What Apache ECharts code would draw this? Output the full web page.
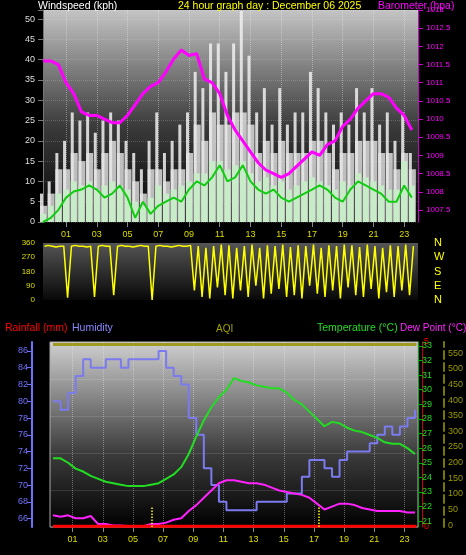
<!DOCTYPE html>
<html><head><meta charset="utf-8">
<script src="https://cdn.jsdelivr.net/npm/echarts@6/dist/echarts.min.js"></script>
<style>html,body{margin:0;background:#000}#c{width:466px;height:555px}</style>
</head><body><div id="c"></div>
<script>
// half-hourly readings from -0.5h to 23.5h
var pressure = [1011.6,1011.6,1011.5,1011.0,1010.7,1010.2,1010.1,1010.1,1010.0,1009.9,1009.9,1010.1,1010.4,1010.7,1010.9,1011.0,1011.3,1011.65,1011.9,1011.75,1011.8,1011.1,1011.0,1010.7,1010.1,1009.7,1009.4,1009.1,1008.8,1008.6,1008.5,1008.4,1008.5,1008.7,1008.9,1009.1,1009.0,1009.3,1009.4,1009.8,1010.0,1010.3,1010.5,1010.7,1010.7,1010.6,1010.3,1010.1,1009.7];
var gust = [7,10,17,20,27,25,27,22,25,27,25,20,17,13,20,27,17,20,24,27,37,33,44,44,37,44,52,41,27,33,24,33,24,27,27,37,33,27,24,27,24,33,27,33,24,27,20,27,17];
var gustLow = [4,7,13,13,17,15,17,13,17,20,17,13,10,7,13,13,10,13,13,17,24,20,27,24,24,27,27,24,17,20,17,20,17,17,17,20,20,17,13,17,17,20,20,20,17,17,13,17,13];
var speed = [2,4,7,8,10,9,10,8,9,10,9,8,5,4,6,9,7,8,9,10,12,12,15,15,13,14,15,12,10,11,9,10,8,9,10,11,10,9,8,10,9,12,11,10,9,8,8,15,9];
var windAvg = [0,1,3,6,7.5,8,9,8,6,7,9,6,1,5,2,4,5,6,5,8,10,9,11,14,10,11,14,10,8,7,8,6,5,6,7,8,9,8,6,5,8,10,9,8,7,5,5,9,6];
// quarter-hourly wind direction, 0h to 24h
var windDir = [340,345,340,335, 340,340,15,340, 345,340,340,335, 340,20,340,345, 340,340,30,340, 345,340,340,335, 340,345,340,340, 0,340,345,340, 340,335,340,345, 340,340,345,60,
  340,20,330,10, 340,80,350,30, 345,10,330,60, 340,20,350,90, 330,10,345,40, 340,70,350,20, 335,30,345,10, 340,90,350,40, 330,20,345,60, 340,10,350,80,
  345,30,335,20, 350,70,340,10, 330,50,345,20, 340,60,350,30, 340];
// half-hourly, 0h to 24h
var humidity = [80,79,81,83,85,84,84,85,85,84,85,85,85,85,86,84,83,82,78,76,72,70,68,67,67,67,67,68,68,68,68,69,69,71,73,73,72,71,73,74,74,74,75,76,77,76,77,78,79];
var temperature = [25.3,25.3,25.0,24.6,24.4,24.1,23.9,23.7,23.6,23.5,23.4,23.4,23.4,23.5,23.6,23.9,24.2,24.7,25.6,26.8,27.9,28.8,29.5,30.0,30.8,30.6,30.5,30.3,30.2,30.1,30.1,29.8,29.3,29.0,28.5,28.0,27.5,27.8,27.7,27.4,27.2,27.1,26.9,26.7,26.4,26.3,26.3,26.0,25.6];
var dewPoint = [21.4,21.3,21.4,21.2,21.2,21.35,20.8,20.8,20.7,20.7,20.65,20.65,20.65,20.8,20.8,20.9,21.1,21.2,21.7,22.1,22.6,23.1,23.6,23.8,23.8,23.7,23.6,23.6,23.5,23.3,23.1,23.0,22.9,22.8,22.6,22.2,21.8,22.0,22.2,22.2,22.1,21.9,21.8,21.7,21.7,21.7,21.7,21.6,21.6];
var hourLabels = [1,3,5,7,9,11,13,15,17,19,21,23];
var dirLabels = ['N','W','S','E','N'];

function pairs(arr, start, step) { return arr.map(function (v, i) { return [start + i * step, v]; }); }

var font = 'Liberation Sans';
var bgTop = {type:'linear',x:0,y:0,x2:0,y2:1,colorStops:[{offset:0,color:'#c4c4c4'},{offset:0.55,color:'#3a3a3a'},{offset:1,color:'#050505'}]};
var bgBot = {type:'linear',x:0,y:0,x2:0,y2:1,colorStops:[{offset:0,color:'#d0d0d0'},{offset:0.6,color:'#3c3c3c'},{offset:1,color:'#000'}]};
var bgMid = {type:'linear',x:0,y:0,x2:0,y2:1,colorStops:[{offset:0,color:'#555'},{offset:1,color:'#080808'}]};

function xAxis(grid, show) {
  return {type:'value', gridIndex:grid, min:-0.5, max:23.9,
    axisLine:{show:false}, splitLine:{show:show, lineStyle:{color:'rgba(255,255,255,0.35)', type:'dotted'}},
    axisTick:{show:show, customValues:hourLabels, lineStyle:{color:'#888'}},
    axisLabel:{show:show, customValues:hourLabels, color:'#dddd00', fontSize:9, fontFamily:font,
      formatter:function (v) { return (v < 10 ? '0' : '') + v; }}};
}
function title(text, left, top, color, size) {
  return {text:text, left:left, top:top, textStyle:{color:color, fontSize:size || 10.5, fontWeight:'normal', fontFamily:font}};
}

var chart = echarts.init(document.getElementById('c'));
chart.setOption({
  backgroundColor:'#000',
  animation:false,
  title:[
    title('Windspeed (kph)', 33, -4, '#fff'),
    title('24 hour graph day : December 06 2025', 173, -4, '#ffff00'),
    title('Barometer (hpa)', 373, -4, '#ff00ff'),
    title('Rainfall (mm)', 0, 318, '#ff0000'),
    title('Humidity', 67, 318, '#8888ff'),
    title('AQI', 211, 319, '#a0a000', 10),
    title('Temperature (°C)', 312, 318, '#22dd22'),
    title('Dew Point (°C)', 395, 318, '#ff22ff', 10)
  ],
  grid:[
    {left:43, right:48, top:10, height:212, show:true, backgroundColor:bgTop, borderWidth:0},
    {left:43, right:48, top:243, height:57, show:true, backgroundColor:bgMid, borderWidth:0},
    {left:50, right:48, top:342, height:185, show:true, backgroundColor:bgBot, borderColor:'#aaa', borderWidth:1}
  ],
  xAxis:[xAxis(0, true), xAxis(1, false), xAxis(2, true)],
  yAxis:[
    {type:'value', gridIndex:0, min:0, max:52.25, interval:5,
      axisLine:{show:true, onZero:false, lineStyle:{color:'#777'}}, axisTick:{show:true, lineStyle:{color:'#777'}},
      splitLine:{show:true, lineStyle:{color:'rgba(255,255,255,0.18)', type:'dotted'}},
      axisLabel:{color:'#ddd', fontSize:9, fontFamily:font, customValues:[0,5,10,15,20,25,30,35,40,45,50]}},
    {type:'value', gridIndex:0, position:'right', min:1007.17, max:1013,
      axisLine:{show:true, onZero:false, lineStyle:{color:'#cc00cc'}}, splitLine:{show:false},
      axisTick:{show:true, customValues:[1007.5,1008,1008.5,1009,1009.5,1010,1010.5,1011,1011.5,1012,1012.5,1013]},
      axisLabel:{color:'#ff00ff', fontSize:8, fontFamily:font, formatter:function (v) { return String(v); },
        customValues:[1007.5,1008,1008.5,1009,1009.5,1010,1010.5,1011,1011.5,1012,1012.5,1013]}},
    {type:'value', gridIndex:1, min:0, max:360, interval:90,
      axisLine:{show:false}, axisTick:{show:false}, splitLine:{show:false},
      axisLabel:{color:'#dddd00', fontSize:8, fontFamily:font}},
    {type:'value', gridIndex:1, position:'right', min:0, max:360, interval:90,
      axisLine:{show:false}, axisTick:{show:false}, splitLine:{show:false},
      axisLabel:{color:'#ffff00', fontSize:11, fontFamily:font, margin:16, formatter:function (v) { return dirLabels[4 - v / 90]; }}},
    {type:'value', gridIndex:2, min:65, max:87.07, offset:18,
      axisLine:{show:true, onZero:false, lineStyle:{color:'#7070ff', width:2}}, splitLine:{show:false},
      axisTick:{show:true, customValues:[66,68,70,72,74,76,78,80,82,84,86], lineStyle:{color:'#7070ff'}},
      axisLabel:{color:'#7070ff', fontSize:9, fontFamily:font, margin:4, customValues:[66,68,70,72,74,76,78,80,82,84,86]}},
    {type:'value', gridIndex:2, min:0, max:5, interval:1, offset:4,
      axisLine:{show:true, onZero:false, lineStyle:{color:'#cc0000'}}, splitLine:{show:true, lineStyle:{color:'rgba(255,255,255,0.12)'}},
      axisTick:{show:false},
      axisLabel:{color:'#ff0000', fontSize:9, fontFamily:font, margin:2, formatter:function (v) { return v === 0 || v === 5 ? v : ''; }}},
    {type:'value', gridIndex:2, position:'right', min:20.6, max:33.27,
      axisLine:{show:true, onZero:false, lineStyle:{color:'#00aa00'}}, splitLine:{show:false},
      axisTick:{show:true, customValues:[21,22,23,24,25,26,27,28,29,30,31,32,33], lineStyle:{color:'#00aa00'}},
      axisLabel:{color:'#22dd22', fontSize:9, fontFamily:font, margin:4, customValues:[21,22,23,24,25,26,27,28,29,30,31,32,33]}},
    {type:'value', gridIndex:2, position:'right', offset:26, min:-6, max:586,
      axisLine:{show:true, onZero:false, lineStyle:{color:'#777700', type:'dashed', width:2}}, splitLine:{show:false},
      axisTick:{show:false},
      axisLabel:{color:'#999900', fontSize:9, fontFamily:font, margin:4, customValues:[0,50,100,150,200,250,300,350,400,450,500,550]}}
  ],
  series:[
    {type:'bar', xAxisIndex:0, yAxisIndex:0, barWidth:3, barGap:'-100%', itemStyle:{color:'rgba(240,240,240,0.85)'}, data:pairs(gust, -0.5, 0.5)},
    {type:'bar', xAxisIndex:0, yAxisIndex:0, barWidth:7, barGap:'-100%', itemStyle:{color:'rgba(230,230,230,0.8)'}, data:pairs(gustLow, -0.5, 0.5)},
    {type:'bar', xAxisIndex:0, yAxisIndex:0, barWidth:6, barGap:'-100%', itemStyle:{color:'#c8ecc8'}, data:pairs(speed, -0.5, 0.5)},
    {type:'line', xAxisIndex:0, yAxisIndex:0, symbol:'none', lineStyle:{color:'#11cc11', width:2}, data:pairs(windAvg, -0.5, 0.5)},
    {type:'line', xAxisIndex:0, yAxisIndex:1, symbol:'none', lineStyle:{color:'#ff00ff', width:3}, data:pairs(pressure, -0.5, 0.5)},
    {type:'line', xAxisIndex:1, yAxisIndex:2, symbol:'none', lineStyle:{color:'#ffff00', width:1.5}, data:pairs(windDir, -0.4, 0.25)},
    {type:'line', xAxisIndex:2, yAxisIndex:4, step:'end', symbol:'none', lineStyle:{color:'#7b7bef', width:2}, data:pairs(humidity, -0.3, 0.5)},
    {type:'line', xAxisIndex:2, yAxisIndex:6, symbol:'none', lineStyle:{color:'#22dd22', width:2}, data:pairs(temperature, -0.3, 0.5)},
    {type:'line', xAxisIndex:2, yAxisIndex:6, symbol:'none', lineStyle:{color:'#ff22ff', width:2}, data:pairs(dewPoint, -0.3, 0.5)},
    {type:'line', xAxisIndex:2, yAxisIndex:5, symbol:'none', lineStyle:{color:'#ff0000', width:3}, data:[[-0.3, 0.02], [23.8, 0.02]],
      markLine:{silent:true, symbol:'none', label:{show:false}, lineStyle:{color:'#ffff00', type:'dotted', width:1.5},
        data:[[{coord:[6.25, 0]}, {coord:[6.25, 0.55]}], [{coord:[17.35, 0]}, {coord:[17.35, 0.55]}],
              [{coord:[-0.3, 4.95], lineStyle:{color:'#a09a20', type:'solid', width:3}}, {coord:[23.8, 4.95]}]]}}
  ]
});
</script>
</body></html>
